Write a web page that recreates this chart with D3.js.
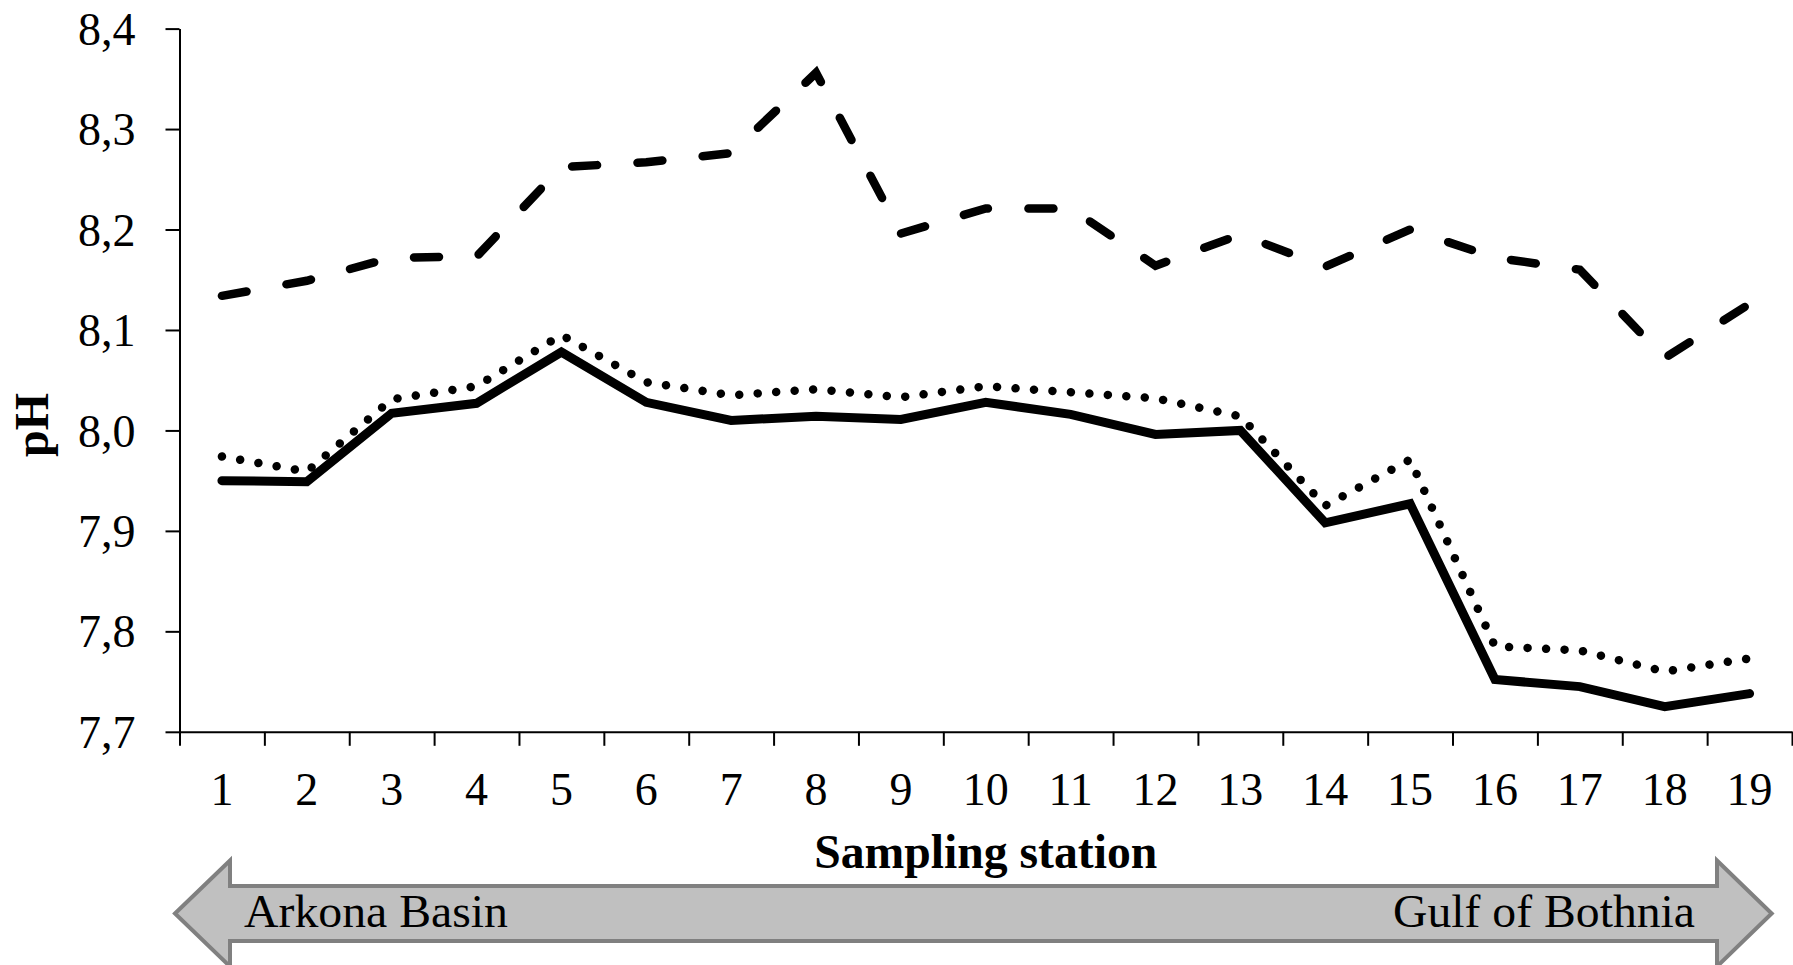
<!DOCTYPE html>
<html>
<head>
<meta charset="utf-8">
<script src="https://cdn.jsdelivr.net/npm/d3@7"></script>
<style>
  body { margin: 0; background: #fff; }
  svg { display: block; font-family: "Liberation Serif", "Times New Roman", serif; }
</style>
</head>
<body>
<div id="chart"></div>
<script>
// Sampling stations along the transect (Arkona Basin -> Gulf of Bothnia)
const stations = [1, 2, 3, 4, 5, 6, 7, 8, 9, 10, 11, 12, 13, 14, 15, 16, 17, 18, 19];

// pH values
const phSolid  = [7.950, 7.949, 8.017, 8.027, 8.078, 8.028, 8.010, 8.014, 8.011, 8.028,
                  8.016, 7.996, 8.000, 7.908, 7.927, 7.752, 7.745, 7.725, 7.738];
const phDotted = [7.974, 7.959, 8.031, 8.044, 8.095, 8.048, 8.035, 8.041, 8.033, 8.044,
                  8.038, 8.032, 8.014, 7.925, 7.971, 7.785, 7.781, 7.760, 7.773];
const phDashed = [8.134, 8.149, 8.172, 8.173, 8.262, 8.267, 8.276, 8.356, 8.196, 8.221,
                  8.221, 8.164, 8.195, 8.163, 8.200, 8.172, 8.160, 8.072, 8.126];

const yDomain = [7.7, 8.4];
const yTicks = [7.7, 7.8, 7.9, 8.0, 8.1, 8.2, 8.3, 8.4];
const regionLabels = ['Arkona Basin', 'Gulf of Bothnia'];

const width = 1793;
const height = 965;
const plot = { left: 179.5, right: 1792, top: 28.6, bottom: 731.8 };

const svg = d3.select('#chart')
  .append('svg')
  .attr('width', width)
  .attr('height', height);

const x = d3.scaleBand()
  .domain(stations)
  .range([plot.left, plot.right])
  .padding(0);

// boundary ticks sit between categories
const xEdges = d3.scaleLinear()
  .domain([0, stations.length])
  .range([plot.left, plot.right]);

const y = d3.scaleLinear()
  .domain(yDomain)
  .range([plot.bottom, plot.top]);

const commaLocale = d3.formatLocale({ decimal: ',', thousands: ' ', grouping: [3], currency: ['', ''] });
const fmt = commaLocale.format('.1f');

// Y axis
const yAxis = svg.append('g')
  .attr('transform', `translate(${plot.left},0)`)
  .call(d3.axisLeft(y).tickValues(yTicks).tickFormat(fmt).tickSize(14).tickSizeOuter(0));

yAxis.select('.domain').attr('stroke', '#000').attr('stroke-width', 2);
yAxis.selectAll('.tick line').attr('stroke', '#000').attr('stroke-width', 2);
yAxis.selectAll('.tick text')
  .attr('x', -44)
  .attr('dy', '0.34em')
  .attr('font-size', 46)
  .attr('font-family', '"Liberation Serif", "Times New Roman", serif')
  .attr('fill', '#000');

// X axis: ticks on the category edges
const xAxisTicks = svg.append('g')
  .attr('transform', `translate(0,${plot.bottom})`)
  .call(d3.axisBottom(xEdges).tickValues(d3.range(0, stations.length + 1)).tickFormat('').tickSize(14).tickSizeOuter(0));

xAxisTicks.select('.domain').attr('stroke', '#000').attr('stroke-width', 2);
xAxisTicks.selectAll('.tick line').attr('stroke', '#000').attr('stroke-width', 2);

// X axis labels centered in each band
const xAxisLabels = svg.append('g')
  .attr('transform', `translate(0,${plot.bottom})`)
  .call(d3.axisBottom(x).tickSize(0));

xAxisLabels.select('.domain').remove();
xAxisLabels.selectAll('.tick text')
  .attr('y', 73)
  .attr('dy', 0)
  .attr('font-size', 46)
  .attr('font-family', '"Liberation Serif", "Times New Roman", serif')
  .attr('fill', '#000');

// Axis titles
svg.append('text')
  .attr('x', (plot.left + plot.right) / 2)
  .attr('y', 868)
  .attr('text-anchor', 'middle')
  .attr('font-size', 48)
  .attr('font-weight', 'bold')
  .attr('textLength', 343)
  .attr('lengthAdjust', 'spacingAndGlyphs')
  .text('Sampling station');

svg.append('text')
  .attr('transform', 'translate(48,425) rotate(-90)')
  .attr('text-anchor', 'middle')
  .attr('font-size', 48)
  .attr('font-weight', 'bold')
  .text('pH');

// Series lines
const cx = s => x(s) + x.bandwidth() / 2;

const line = d3.line()
  .x((d, i) => cx(stations[i]))
  .y(d => y(d));

const series = [
  { values: phDashed, width: 8.5, dash: '25 40.5', cap: 'round' },
  { values: phDotted, width: 8.5, dash: '0.01 18.5', cap: 'round' },
  { values: phSolid, width: 9, dash: null, cap: 'round' }
];

svg.selectAll('.series')
  .data(series)
  .enter()
  .append('path')
  .attr('class', 'series')
  .attr('d', d => line(d.values))
  .attr('fill', 'none')
  .attr('stroke', '#000')
  .attr('stroke-width', d => d.width)
  .attr('stroke-linecap', d => d.cap)
  .attr('stroke-linejoin', 'miter')
  .attr('stroke-dasharray', d => d.dash);

// Double-headed arrow under the axis
const arrow = {
  left: 175, right: 1771.7, mid: 913.5,
  headBackLeft: 230, headBackRight: 1717,
  shaftHalf: 27.5, headHalf: 53
};

const arrowPath = d3.path();
arrowPath.moveTo(arrow.left, arrow.mid);
arrowPath.lineTo(arrow.headBackLeft, arrow.mid - arrow.headHalf);
arrowPath.lineTo(arrow.headBackLeft, arrow.mid - arrow.shaftHalf);
arrowPath.lineTo(arrow.headBackRight, arrow.mid - arrow.shaftHalf);
arrowPath.lineTo(arrow.headBackRight, arrow.mid - arrow.headHalf);
arrowPath.lineTo(arrow.right, arrow.mid);
arrowPath.lineTo(arrow.headBackRight, arrow.mid + arrow.headHalf);
arrowPath.lineTo(arrow.headBackRight, arrow.mid + arrow.shaftHalf);
arrowPath.lineTo(arrow.headBackLeft, arrow.mid + arrow.shaftHalf);
arrowPath.lineTo(arrow.headBackLeft, arrow.mid + arrow.headHalf);
arrowPath.closePath();

svg.append('path')
  .attr('d', arrowPath.toString())
  .attr('fill', '#c0c0c0')
  .attr('stroke', '#808080')
  .attr('stroke-width', 4)
  .attr('stroke-linejoin', 'miter');

svg.append('text')
  .attr('x', 244)
  .attr('y', 927)
  .attr('font-size', 47)
  .attr('textLength', 264)
  .attr('lengthAdjust', 'spacingAndGlyphs')
  .text(regionLabels[0]);

svg.append('text')
  .attr('x', 1695)
  .attr('y', 927)
  .attr('text-anchor', 'end')
  .attr('font-size', 47)
  .attr('textLength', 302)
  .attr('lengthAdjust', 'spacingAndGlyphs')
  .text(regionLabels[1]);
</script>
</body>
</html>
